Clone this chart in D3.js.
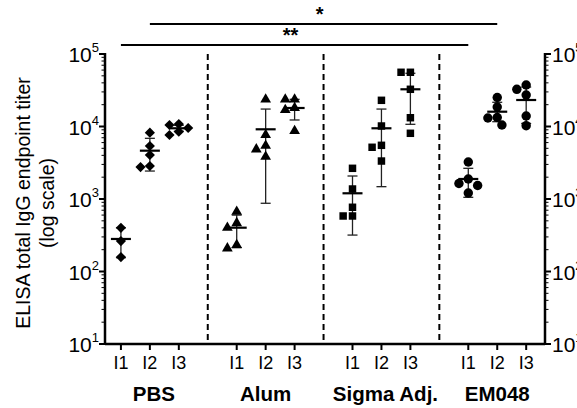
<!DOCTYPE html>
<html>
<head>
<meta charset="utf-8">
<script src="https://cdn.jsdelivr.net/npm/d3@7"></script>
<style>
  body { margin: 0; background: #fff; }
  svg { font-family: "Liberation Sans", Arial, sans-serif; }
</style>
</head>
<body>
<svg id="chart" width="577" height="408"></svg>
<script>
const groups = ['PBS', 'Alum', 'Sigma Adj.', 'EM048'];
const timepoints = ['I1', 'I2', 'I3'];
const markers = ['diamond', 'triangle', 'square', 'circle'];

// individual titers per timepoint (I1, I2, I3)
const pbsValues = [[400, 263, 158], [8210, 5380, 4045, 2850, 2760], [10800, 10490, 9530, 8480, 7630]];
const alumValues = [[668, 466, 402, 232, 209], [23700, 7630, 5430, 4850, 3830], [23700, 23700, 18000, 16900, 8670]];
const sigmaValues = [[2650, 1374, 769, 583, 583], [22970, 10160, 5500, 5170, 3340], [55950, 55950, 32600, 13220, 8060]];
const em048Values = [[3240, 1888, 1636, 1535, 1210], [25100, 18580, 13300, 13100, 10490], [37350, 32600, 27200, 13960, 10260]];

// mean and error bar ends
const pbsMean = [281, 4640, 9450], pbsLow = [155, 2430, 8600], pbsHigh = [400, 6870, 10400];
const alumMean = [402, 9150, 18000], alumLow = [213, 873, 12300], alumHigh = [600, 17400, 23700];
const sigmaMean = [1199, 9450, 32600], sigmaLow = [318, 1479, 10720], sigmaHigh = [2076, 17400, 54200];
const em048Mean = [1888, 16000, 23200], em048Low = [1055, 11650, 11000], em048High = [2650, 21580, 35000];

const yTicks = [10, 100, 1000, 10000, 100000];
const tickExp = ['1', '2', '3', '4', '5'];

// significance brackets: [from group, from tp, to group, to tp, label]
const sigBars = [[0, 1, 3, 1, '*'], [0, 0, 3, 0, '**']];

const allValues = [pbsValues, alumValues, sigmaValues, em048Values];
const allMean = [pbsMean, alumMean, sigmaMean, em048Mean];
const allLow = [pbsLow, alumLow, sigmaLow, em048Low];
const allHigh = [pbsHigh, alumHigh, sigmaHigh, em048High];

const svg = d3.select('#chart');
const plotTop = 54, plotBottom = 344, plotLeft = 105, plotRight = 545;

const y = d3.scaleLog().domain([10, 1e5]).range([plotBottom, plotTop]);
const x = d3.scaleLinear().domain([-0.55, 14.65]).range([plotLeft, plotRight]);
const slot = (g, t) => g * 4 + t;

// dashed separators
[3, 7, 11].forEach(s => {
  svg.append('line')
    .attr('x1', x(s)).attr('x2', x(s))
    .attr('y1', plotTop).attr('y2', plotBottom)
    .attr('stroke', '#000').attr('stroke-width', 2)
    .attr('stroke-dasharray', '6,4');
});

// axes
const minorTicks = [];
for (let d = 10; d < 1e5; d *= 10) for (let k = 2; k <= 9; k++) minorTicks.push(d * k);

function drawYAxis(xPos, dir) {
  const g = svg.append('g');
  g.append('line').attr('x1', xPos).attr('x2', xPos).attr('y1', plotTop - 1).attr('y2', plotBottom + 1)
    .attr('stroke', '#000').attr('stroke-width', 2.5);
  g.selectAll('.maj').data(yTicks).enter().append('line')
    .attr('x1', xPos).attr('x2', xPos + dir * 6)
    .attr('y1', d => y(d)).attr('y2', d => y(d))
    .attr('stroke', '#000').attr('stroke-width', 2);
  g.selectAll('.min').data(minorTicks).enter().append('line')
    .attr('x1', xPos).attr('x2', xPos + dir * 3.5)
    .attr('y1', d => y(d)).attr('y2', d => y(d))
    .attr('stroke', '#000').attr('stroke-width', 1);
  const lab = g.selectAll('.lab').data(yTicks).enter().append('text')
    .attr('x', dir < 0 ? xPos - 6 : xPos + 7)
    .attr('y', d => y(d) + 8)
    .attr('text-anchor', dir < 0 ? 'end' : 'start')
    .attr('font-size', 21).attr('fill', '#000');
  lab.append('tspan').text('10');
  lab.append('tspan').attr('font-size', 13).attr('dy', -10).text((d, i) => tickExp[i]);
}
drawYAxis(plotLeft, -1);
drawYAxis(plotRight, 1);

svg.append('line').attr('x1', plotLeft).attr('x2', plotRight).attr('y1', plotBottom).attr('y2', plotBottom)
  .attr('stroke', '#000').attr('stroke-width', 2.5);

// x ticks and labels
groups.forEach((gName, g) => {
  timepoints.forEach((tp, t) => {
    const xp = x(slot(g, t));
    svg.append('line').attr('x1', xp).attr('x2', xp).attr('y1', plotBottom).attr('y2', plotBottom + 6)
      .attr('stroke', '#000').attr('stroke-width', 2);
    svg.append('text').attr('x', xp).attr('y', 369).attr('text-anchor', 'middle')
      .attr('font-size', 18).text(tp);
  });
  svg.append('text').attr('x', x(slot(g, 1)) + (g === 0 ? 4 : g === 2 ? 4 : 0)).attr('y', 401).attr('text-anchor', 'middle')
    .attr('font-size', 20.5).attr('font-weight', 'bold').text(gName);
});

// y axis title
const yt = svg.append('text').attr('transform', 'translate(0,203) rotate(-90)')
  .attr('text-anchor', 'middle').attr('font-size', 19.5);
yt.append('tspan').attr('x', 0).attr('y', 30).text('ELISA total IgG endpoint titer');
yt.append('tspan').attr('x', 0).attr('y', 54).text('(log scale)');

// markers
const symbolFor = {
  diamond: d3.symbol().type(d3.symbolSquare).size(52),
  triangle: d3.symbol().type(d3.symbolTriangle).size(50),
  square: d3.symbol().type(d3.symbolSquare).size(56),
  circle: d3.symbol().type(d3.symbolCircle).size(70)
};

function spread(vals, size) {
  const pts = vals.map(v => ({ v, py: y(v) })).sort((a, b) => a.py - b.py);
  const placed = [];
  const cands = [0, -0.55, 0.55, -1.1, 1.1];
  pts.forEach(p => {
    for (const c of cands) {
      const dx = c * size;
      if (placed.every(q => Math.hypot(q.dx - dx, q.py - p.py) >= size)) { p.dx = dx; break; }
    }
    if (p.dx === undefined) p.dx = 0;
    placed.push(p);
  });
  return pts;
}

groups.forEach((gName, g) => {
  timepoints.forEach((tp, t) => {
    const xc = x(slot(g, t));
    const m = markers[g];
    // error bar
    const eb = svg.append('g').attr('stroke', '#222').attr('stroke-width', 1.3);
    eb.append('line').attr('x1', xc).attr('x2', xc).attr('y1', y(allHigh[g][t])).attr('y2', y(allLow[g][t]));
    [allHigh[g][t], allLow[g][t]].forEach(v => {
      eb.append('line').attr('x1', xc - 5).attr('x2', xc + 5).attr('y1', y(v)).attr('y2', y(v));
    });
    // points
    const pts = spread(allValues[g][t], 8.5);
    svg.selectAll(null).data(pts).enter().append('path')
      .attr('d', symbolFor[m])
      .attr('transform', d => 'translate(' + (xc + d.dx) + ',' + d.py + ')' + (m === 'diamond' ? ' rotate(45)' : ''))
      .attr('fill', '#000');
    // mean line
    svg.append('line').attr('x1', xc - 10).attr('x2', xc + 10)
      .attr('y1', y(allMean[g][t])).attr('y2', y(allMean[g][t]))
      .attr('stroke', '#000').attr('stroke-width', 2.2);
  });
});

// significance bars
sigBars.forEach((b, i) => {
  const yy = i === 0 ? 24 : 45;
  const x1 = x(slot(b[0], b[1])), x2 = x(slot(b[2], b[3]));
  svg.append('line').attr('x1', x1).attr('x2', x2).attr('y1', yy).attr('y2', yy)
    .attr('stroke', '#000').attr('stroke-width', 1.8);
  svg.append('text').attr('x', (x1 + x2) / 2 - 4).attr('y', yy - 3).attr('text-anchor', 'middle')
    .attr('font-size', 20).attr('font-weight', 'bold').text(b[4]);
});
</script>
</body>
</html>
